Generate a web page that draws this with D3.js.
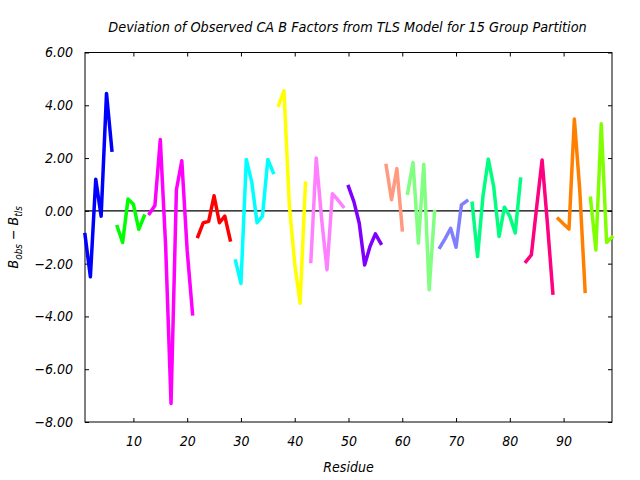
<!DOCTYPE html>
<html>
<head>
<meta charset="utf-8">
<script src="https://cdn.jsdelivr.net/npm/d3@7"></script>
<style>
  body { margin: 0; background: #fff; }
  svg { display: block; }
  text { font-family: "DejaVu Sans Condensed", "DejaVu Sans", sans-serif; font-style: italic; font-stretch: condensed; }
</style>
</head>
<body>
<div id="chart"></div>
<script>
// ---- data ----
const title = "Deviation of Observed CA B Factors from TLS Model for 15 Group Partition";
const xLabel = "Residue";
const xTicks = [10, 20, 30, 40, 50, 60, 70, 80, 90];
const yTicks = [-8, -6, -4, -2, 0, 2, 4, 6];
const groupStarts = [1, 7, 13, 22, 29, 37, 43, 50, 57, 61, 67, 73, 83, 89, 95];
const groupColors = ["#0000ff", "#00ff00", "#ff00ff", "#ff0000", "#00ffff", "#ffff00", "#ff80ff",
                     "#8000ff", "#ff9980", "#80ff80", "#8080ff", "#00ff80", "#ff0080", "#ff8000", "#80ff00"];
const g1  = [-0.9, -2.5, 1.2, -0.2, 4.45, 2.3];
const g2  = [-0.6, -1.2, 0.45, 0.25, -0.7, -0.2];
const g3  = [-0.1, 0.2, 2.7, -1.35, -7.3, 0.8, 1.9, -1.5, -3.9];
const g4  = [-0.97, -0.45, -0.4, 0.57, -0.45, -0.2, -1.1];
const g5  = [-1.9, -2.75, 1.95, 1.1, -0.45, -0.2, 1.95, 1.45];
const g6  = [4.0, 4.55, 0.2, -2.0, -3.5, 1.05];
const g7  = [-1.92, 2.0, -0.3, -2.23, 0.65, 0.42, 0.16];
const g8  = [0.92, 0.35, -0.47, -2.05, -1.35, -0.87, -1.23];
const g9  = [1.72, 0.42, 1.6, -0.72];
const g10 = [0.67, 1.83, -1.22, 1.77, -2.99, -0.03];
const g11 = [-1.38, -1.04, -0.66, -1.38, 0.23, 0.38];
const g12 = [0.29, -1.73, 0.54, 1.96, 0.92, -0.97, 0.14, -0.21, -0.84, 1.2];
const g13 = [-1.92, -1.67, 0.16, 1.93, -0.5, -3.12];
const g14 = [-0.3, -0.5, -0.69, 3.48, 0.8, -3.05];
const g15 = [0.48, -1.48, 3.3, -1.2, -1.0];
const groupValues = [g1, g2, g3, g4, g5, g6, g7, g8, g9, g10, g11, g12, g13, g14, g15];

// ---- layout ----
const W = 640, H = 480;
const m = { left: 85, right: 28, top: 52.5, bottom: 58 };
const iw = W - m.left - m.right, ih = H - m.top - m.bottom;

const svg = d3.select("#chart").append("svg").attr("width", W).attr("height", H);
const g = svg.append("g").attr("transform", `translate(${m.left},${m.top})`);

const x = d3.scaleLinear().domain([1, 99]).range([0, iw]);
const y = d3.scaleLinear().domain([-8, 6]).range([ih, 0]);

// frame
g.append("rect").attr("x", 0).attr("y", 0).attr("width", iw).attr("height", ih)
  .attr("fill", "none").attr("stroke", "#000").attr("stroke-width", 1);

// axes (ticks pointing inward)
const tickLen = 4;
const axB = g.append("g").attr("transform", `translate(0,${ih})`)
  .call(d3.axisBottom(x).tickValues(xTicks).tickSize(-tickLen).tickPadding(14).tickFormat(d3.format("d")));
const axT = g.append("g")
  .call(d3.axisTop(x).tickValues(xTicks).tickSize(-tickLen).tickFormat(""));
const axL = g.append("g")
  .call(d3.axisLeft(y).tickValues(yTicks).tickSize(-tickLen).tickPadding(12).tickFormat(d3.format(".2f")));
const axR = g.append("g").attr("transform", `translate(${iw},0)`)
  .call(d3.axisRight(y).tickValues(yTicks).tickSize(-tickLen).tickFormat(""));
[axB, axT, axL, axR].forEach(a => {
  a.select(".domain").remove();
  a.selectAll("line").attr("stroke", "#000");
  a.selectAll("text").attr("fill", "#000").style("font-size", "14px");
});

// zero line
g.append("line").attr("x1", 0).attr("x2", iw).attr("y1", y(0)).attr("y2", y(0))
  .attr("stroke", "#000").attr("stroke-width", 1.2);

// series
const line = d3.line().x(d => x(d.r)).y(d => y(d.v));
groupValues.forEach((vals, i) => {
  const pts = vals.map((v, k) => ({ r: groupStarts[i] + k, v }));
  g.append("path").datum(pts).attr("d", line)
    .attr("fill", "none").attr("stroke", groupColors[i]).attr("stroke-width", 3.5)
    .attr("stroke-linejoin", "round").attr("stroke-linecap", "square");
});

// title
svg.append("text").attr("x", m.left + iw / 2 - 1).attr("y", 32).attr("text-anchor", "middle")
  .style("font-size", "14.3px").text(title);

// x label
svg.append("text").attr("x", m.left + iw / 2).attr("y", 472).attr("text-anchor", "middle")
  .style("font-size", "14px").text(xLabel);

// y label with subscripts
const yl = svg.append("text").attr("transform", `translate(18,${m.top + ih / 2}) rotate(-90)`)
  .attr("text-anchor", "middle").style("font-size", "14px");
yl.append("tspan").text("B");
yl.append("tspan").attr("dy", 4).style("font-size", "10px").text("obs");
yl.append("tspan").attr("dy", -4).text(" \u2212 B");
yl.append("tspan").attr("dy", 4).style("font-size", "10px").text("tls");
</script>
</body>
</html>
